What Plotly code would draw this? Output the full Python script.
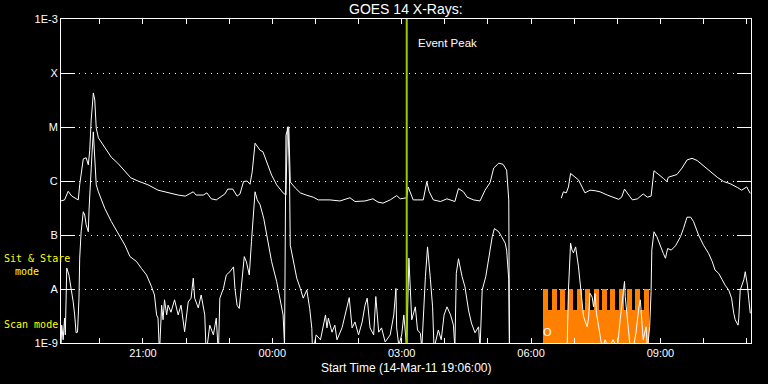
import pandas as pd
import plotly.graph_objects as go

# ---------------- data ----------------
START = "2011-03-14 19:06:00"
SPAN_MIN = 960
EVENT_PEAK_MIN = 481  # 03:07

# GOES 1-8 A (long channel), minutes after start, log10 flux (W/m^2)
long_min = [0, 5, 10, 15, 24, 26, 31, 35, 38, 40,
            42, 45, 47, 49, 52, 61, 70, 79, 89, 97,
            107, 121, 135, 149, 163, 173, 178, 184, 188, 198,
            203, 209, 216, 221, 228, 232, 239, 245, 249, 254,
            259, 263, 266, 270, 273, 277, 281, 286, 293, 300,
            309, 313, 315, 317, 319, 326, 333, 341, 351, 358,
            374, 388, 402, 409, 423, 434, 441, 448, 458, 467,
            472, 481, 483, 490, 504, 509, 512, 518, 528, 537,
            548, 553, 560, 565, 574, 583, 590, 597, 602, 609,
            615, 620, 623, 624, 660, 696, 699, 703, 706, 709,
            714, 720, 729, 736, 743, 750, 760, 769, 776, 780,
            784, 791, 795, 802, 810, 816, 821, 825, 829, 834,
            838, 843, 845, 857, 864, 871, 878, 885, 894, 903,
            913, 922, 931, 941, 947, 954, 959]
long_log = [-6.37, -6.35, -6.19, -6.28, -6.35, -6.07, -5.59, -5.57, -5.70, -5.43,
            -4.87, -4.37, -4.50, -5.02, -5.20, -5.39, -5.56, -5.67, -5.83, -5.94,
            -6.00, -6.07, -6.17, -6.22, -6.26, -6.28, -6.24, -6.20, -6.26, -6.26,
            -6.22, -6.33, -6.35, -6.30, -6.24, -6.15, -6.15, -6.28, -6.24, -6.01,
            -6.00, -6.06, -5.83, -5.30, -5.35, -5.43, -5.46, -5.64, -5.89, -6.07,
            -6.22, -6.26, -5.00, -5.00, -6.02, -6.13, -6.22, -6.26, -6.30, -6.35,
            -6.35, -6.37, -6.31, -6.38, -6.37, -6.33, -6.39, -6.41, -6.35, -6.27,
            -6.33, -6.31, -6.11, -6.35, -6.35, -6.01, -6.19, -6.35, -6.38, -6.33,
            -6.38, -6.14, -6.20, -6.30, -6.35, -6.37, -6.17, -6.03, -5.76, -5.67,
            -5.69, -5.80, -6.35, -9.30, None, -6.32, -6.20, -6.22, -6.11, -5.86,
            -5.91, -5.98, -6.22, -6.17, -6.18, -6.20, -6.26, -6.30, -6.34, -6.30,
            -6.15, -6.28, -6.35, -6.33, -6.24, -6.30, -6.28, -5.81, -5.85, -5.91,
            -5.95, -6.01, -5.93, -5.88, -5.76, -5.61, -5.58, -5.62, -5.72, -5.83,
            -5.93, -6.01, -6.05, -6.12, -6.17, -6.11, -6.23]

# GOES 0.5-4 A (short channel)
short_min = [0, 1, 3, 5, 6, 8, 11, 14, 17, 19,
             21, 23, 25, 26, 28, 31, 33, 35, 38, 39,
             41, 43, 45, 47, 49, 52, 61, 70, 79, 89,
             96, 105, 112, 119, 126, 130, 133, 135, 137, 140,
             142, 144, 147, 149, 153, 158, 163, 167, 172, 177,
             181, 184, 186, 191, 195, 200, 202, 207, 212, 216,
             219, 221, 226, 230, 235, 240, 242, 245, 248, 252,
             255, 258, 262, 265, 268, 270, 273, 277, 282, 286,
             293, 300, 305, 309, 311, 313, 316, 318, 319, 323,
             328, 333, 337, 342, 346, 349, 350, 355, 361, 368,
             370, 372, 377, 381, 384, 391, 395, 401, 405, 409,
             414, 419, 423, 426, 430, 435, 438, 442, 446, 451,
             458, 463, 466, 467, 470, 474, 477, 479, 481, 484,
             486, 488, 493, 496, 500, 502, 507, 510, 514, 517,
             519, 525, 529, 533, 537, 542, 546, 548, 550, 553,
             558, 562, 567, 571, 576, 581, 583, 586, 591, 595,
             600, 603, 609, 613, 618, 620, 623, 624, 660, 704,
             706, 709, 711, 713, 716, 720, 723, 725, 727, 732,
             734, 736, 739, 741, 743, 745, 748, 753, 757, 762,
             768, 774, 778, 782, 784, 785, 788, 790, 792, 796,
             800, 804, 806, 808, 810, 814, 816, 819, 821, 822,
             825, 829, 834, 838, 841, 844, 849, 855, 857, 862,
             866, 871, 876, 880, 887, 894, 901, 906, 910, 915,
             920, 924, 929, 933, 936, 938, 942, 943, 945, 950,
             952, 955, 957, 959]
short_log = [-9.10, -8.67, -8.94, -8.54, -8.85, -7.61, -7.74, -7.98, -8.24, -8.48,
             -8.81, -8.80, -8.17, -7.43, -6.94, -6.57, -6.63, -6.81, -6.94, -6.54,
             -5.95, -5.52, -5.09, -5.58, -6.07, -6.20, -6.51, -6.75, -6.97, -7.19,
             -7.40, -7.49, -7.62, -7.74, -7.96, -8.11, -8.48, -8.54, -9.20, -8.30,
             -8.57, -8.20, -8.48, -8.30, -8.43, -8.20, -8.48, -8.30, -8.79, -8.24,
             -8.17, -7.80, -8.17, -8.35, -8.11, -8.48, -9.20, -8.67, -8.85, -8.54,
             -9.20, -8.17, -7.99, -7.74, -7.68, -7.59, -7.99, -8.30, -8.36, -7.80,
             -7.40, -7.50, -7.74, -7.12, -6.51, -6.20, -6.35, -6.44, -6.69, -7.00,
             -7.49, -7.86, -8.17, -8.48, -9.05, -5.15, -5.02, -6.01, -7.19, -7.49,
             -7.80, -7.99, -8.17, -8.02, -8.36, -8.73, -9.20, -8.85, -8.94, -8.48,
             -8.72, -8.54, -8.80, -8.67, -8.94, -8.72, -8.48, -8.16, -8.72, -8.61,
             -8.85, -8.61, -8.30, -8.17, -8.72, -8.85, -8.14, -8.80, -8.72, -8.98,
             -8.85, -8.48, -7.99, -8.72, -9.05, -8.85, -8.48, -8.72, -9.10, -7.43,
             -7.89, -8.57, -8.33, -8.76, -8.82, -9.10, -7.77, -7.22, -7.83, -8.33,
             -9.10, -8.76, -8.94, -8.48, -8.33, -8.48, -8.67, -9.10, -7.71, -7.44,
             -7.77, -7.96, -8.39, -8.63, -8.81, -8.70, -9.10, -8.02, -7.77, -7.40,
             -7.03, -6.88, -6.94, -7.03, -7.15, -7.28, -7.83, -9.20, None, -9.20,
             -8.02, -7.15, -7.28, -7.33, -7.22, -7.59, -7.96, -8.26, -8.51, -8.70,
             -8.54, -8.08, -8.15, -8.33, -8.08, -8.45, -8.70, -9.10, -8.94, -9.10,
             -8.94, -9.10, -8.57, -8.14, -7.86, -8.14, -8.51, -8.81, -9.10, -9.10,
             -8.81, -8.33, -8.20, -8.57, -8.94, -8.70, -9.10, -8.70, -8.05, -7.28,
             -6.94, -7.03, -7.22, -7.34, -7.43, -7.25, -7.28, -7.20, -7.15, -7.03,
             -6.88, -6.67, -6.67, -6.75, -7.00, -7.19, -7.34, -7.49, -7.65, -7.71,
             -7.83, -7.93, -8.02, -8.17, -8.45, -8.57, -8.67, -8.54, -8.02, -7.83,
             -7.68, -7.93, -8.20, -8.45]

# observing modes (orange): sit-and-stare blocks on top of a continuous scan band
sit_start_min = [671, 683, 694, 706, 718, 729, 741, 753, 764, 776, 788, 799, 811]
sit_dur_min = 7
scan_start_min = 671
scan_end_min = 817.5
sit_level = -8.0
scan_level = -8.39
base_level = -9.0
obs_marker_min = 676.5
obs_marker_log = -8.81

ytick_vals = [-9, -8, -7, -6, -5, -4, -3]
ytick_text = ["1E-9", "A", "B", "C", "M", "X", "1E-3"]

# ---------------- figure ----------------
t0 = pd.Timestamp(START)


def tt(mins):
    return [t0 + pd.Timedelta(minutes=m) for m in mins]


ORANGE = "#ff8000"
MS = 60000

fig = go.Figure()

fig.add_trace(go.Bar(
    x=tt([scan_start_min]), y=[scan_level - base_level], base=[base_level],
    width=[(scan_end_min - scan_start_min) * MS], offset=0,
    marker=dict(color=ORANGE, line=dict(width=0)), showlegend=False))
fig.add_trace(go.Bar(
    x=tt(sit_start_min), y=[sit_level - base_level] * len(sit_start_min),
    base=[base_level] * len(sit_start_min),
    width=[sit_dur_min * MS] * len(sit_start_min), offset=0,
    marker=dict(color=ORANGE, line=dict(width=0)), showlegend=False))

fig.add_trace(go.Scatter(x=tt(long_min), y=long_log, mode="lines",
                         line=dict(color="white", width=1), connectgaps=False,
                         showlegend=False))
fig.add_trace(go.Scatter(x=tt(short_min), y=short_log, mode="lines",
                         line=dict(color="white", width=1), connectgaps=False,
                         showlegend=False))

ev = tt([EVENT_PEAK_MIN])[0]
fig.add_trace(go.Scatter(x=[ev, ev], y=[-9, -3], mode="lines",
                         line=dict(color="#99cc00", width=2), showlegend=False))

FONT = "Liberation Sans"
MONO = "DejaVu Sans Mono"

fig.update_layout(
    width=768, height=384,
    margin=dict(l=61, r=17, t=19, b=41),
    paper_bgcolor="black", plot_bgcolor="black",
    barmode="overlay", bargap=0,
    font=dict(family=FONT, size=11, color="white"),
    xaxis=dict(
        type="date",
        range=[t0, t0 + pd.Timedelta(minutes=SPAN_MIN)],
        tick0="2011-03-14 21:00:00", dtick=3 * 3600000,
        tickformat="%H:%M",
        ticks="inside", ticklen=5, tickcolor="white", tickwidth=1,
        minor=dict(dtick=3600000, ticks="inside", ticklen=5, tickcolor="white"),
        showline=True, linecolor="white", linewidth=1, mirror="ticks",
        showgrid=False, zeroline=False,
        tickfont=dict(family=FONT, size=11, color="white"),
    ),
    yaxis=dict(
        range=[-9, -3], tickvals=ytick_vals, ticktext=ytick_text,
        ticks="inside", ticklen=14, tickcolor="white", tickwidth=1,
        showline=True, linecolor="white", linewidth=1, mirror="ticks",
        showgrid=True, gridcolor="white", gridwidth=1, griddash="1px,5px",
        zeroline=False,
        tickfont=dict(family=FONT, size=11, color="white"),
    ),
)

fig.add_annotation(text="GOES 14 X-Rays:", xref="paper", yref="paper",
                   x=0.5, y=(343 - 9) / 324, xanchor="center", yanchor="middle",
                   showarrow=False, font=dict(family=FONT, size=14, color="white"))
fig.add_annotation(text="Start Time (14-Mar-11 19:06:00)", xref="paper", yref="paper",
                   x=0.5, y=(343 - 368) / 324, xanchor="center", yanchor="middle",
                   showarrow=False, font=dict(family=FONT, size=12, color="white"))
fig.add_annotation(text="Event Peak", x=ev, y=-3.44, xref="x", yref="y",
                   xanchor="left", yanchor="middle", xshift=9,
                   showarrow=False, font=dict(family=FONT, size=11.5, color="white"))
fig.add_annotation(text="O", x=tt([obs_marker_min])[0], y=obs_marker_log,
                   xref="x", yref="y", showarrow=False,
                   font=dict(family="DejaVu Sans", size=11, color="white"))
fig.add_annotation(text="Sit & Stare", xref="paper", yref="y",
                   x=(2 - 61) / 690, y=-7.44, xanchor="left", yanchor="middle",
                   showarrow=False, font=dict(family=MONO, size=10, color="#ffff00"))
fig.add_annotation(text="mode", xref="paper", yref="y",
                   x=(12.5 - 61) / 690, y=-7.67, xanchor="left", yanchor="middle",
                   showarrow=False, font=dict(family=MONO, size=10, color="#ffff00"))
fig.add_annotation(text="Scan mode", xref="paper", yref="y",
                   x=(2 - 61) / 690, y=-8.65, xanchor="left", yanchor="middle",
                   showarrow=False, font=dict(family=MONO, size=10, color="#ffff00"))

fig.write_html(
    "out.html",
    config={"displayModeBar": False},
    post_script="document.body.style.margin='0';document.body.style.overflow='hidden';",
)
